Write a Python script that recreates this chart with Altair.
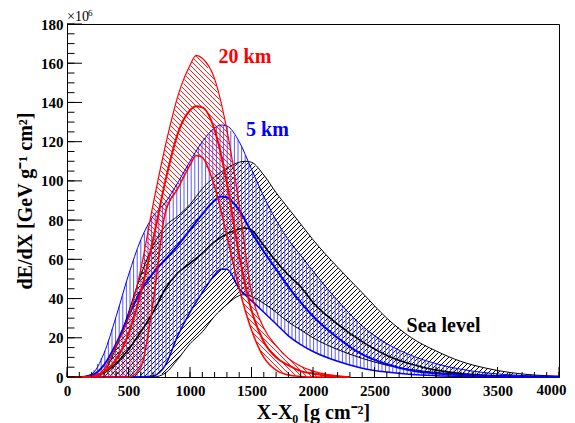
import numpy as np
import pandas as pd
import altair as alt

# ---------------- data ----------------
W, H = 492, 353
XMAX, YMAX = 4000, 180

# 20 km (red)
RED_X = [0, 100, 200, 300, 400, 500, 600, 700, 800, 900, 1000, 1050, 1100, 1200,
         1300, 1400, 1500, 1600, 1700, 1800, 1900, 2000, 2100, 2200, 2300]
RED_UP = [0, 0, 0, 4, 16, 30, 55, 88, 118, 143, 159, 164, 162.5, 152,
          126, 88, 43, 25, 16, 9.5, 5.5, 3, 1.5, 0.6, 0]
RED_MID = [0, 0, 0.3, 2.5, 9, 22, 43, 70, 100, 124, 136, 138, 137.5, 126,
           99, 62, 34, 18, 10, 6, 3, 1.8, 0.8, 0.3, 0]
RED_LOW = [0, 0, 0, 0, 0, 0, 5, 38, 84, 96, 108, 113, 112, 97,
           72, 45, 24, 10, 3.5, 1, 0.3, 0, 0, 0, 0]

# 5 km (blue)
BLUE_X = [0, 100, 200, 300, 400, 500, 600, 700, 800, 900, 1000, 1100, 1200, 1250,
          1300, 1400, 1500, 1600, 1700, 1800, 1900, 2000, 2200, 2400, 2600, 2800,
          3000, 3200, 3400, 3600, 3800, 4000]
BLUE_UP = [0, 0, 1.5, 12, 31, 52, 70, 82, 89, 99, 110, 120, 127, 128.5,
           128, 120, 106, 92, 80, 70, 62, 54, 39, 26, 17, 11,
           6.8, 4, 2.2, 1.1, 0.5, 0.2]
BLUE_MID = [0, 0, 0.8, 6, 17, 31, 44, 53, 60, 67, 75, 83, 90, 92,
            91.5, 85, 74, 64, 55, 46, 38, 31, 20, 11.5, 6.5, 3.3,
            1.8, 1, 0.5, 0.3, 0.15, 0.1]
BLUE_LOW = [0, 0, 0, 0, 0, 0, 0, 0.5, 6, 21, 33, 43, 52, 55,
            55, 45, 39, 33, 27, 21, 16.5, 13, 8, 4.5, 2.5, 1.3,
            0.7, 0.35, 0.15, 0.05, 0, 0]

# Sea level (black)
BLACK_X = [0, 100, 200, 300, 400, 500, 600, 700, 800, 900, 1000, 1100, 1200, 1300,
           1400, 1450, 1500, 1600, 1700, 1800, 1900, 2000, 2200, 2400, 2600, 2800,
           3000, 3200, 3400, 3600, 3800, 4000]
BLACK_UP = [0, 0, 0, 3, 15, 33, 52, 67, 77, 82, 88, 96, 102, 106.5,
            109.5, 110, 109.5, 103, 94, 86, 78, 70, 56, 43, 30, 20,
            13.3, 8, 4.6, 2.3, 1, 0.4]
BLACK_MID = [0, 0, 0.3, 2, 7, 14, 23, 33, 45, 53, 58, 63, 69, 73,
             75.5, 76, 75, 67, 59, 52, 46, 38, 27, 18, 11, 6.5,
             3.5, 1.8, 0.9, 0.4, 0.2, 0.1]
BLACK_LOW = [0, 0, 0, 0, 0, 0, 0, 0, 2, 9, 17, 23, 31, 37,
             41.5, 42, 41, 37.5, 33, 28, 24, 20, 14, 9.5, 6, 3.8,
             2.3, 1.3, 0.7, 0.4, 0.2, 0.1]

X_MAJOR = list(range(0, 4001, 500))
X_MINOR = list(range(0, 4001, 100))
Y_MAJOR = list(range(0, 181, 20))
Y_MINOR = list(range(0, 181, 5))
X_LAST_LABEL = [4000]

LABEL_TEXT = ["20 km", "5 km", "Sea level"]
LABEL_X = [1447, 1630, 3061]
LABEL_Y = [163, 126, 25.8]
LABEL_COLOR = ["#ff0000", "#0000ff", "#000000"]

# ---------------- helpers ----------------
kx = W / XMAX
ky = H / YMAX
FONT = "Liberation Serif"

SX = alt.Scale(domain=[0, XMAX], nice=False, zero=False)
SY = alt.Scale(domain=[0, YMAX], nice=False, zero=False)
AX = alt.Axis(values=X_MAJOR, format="d", tickSize=0, labelPadding=18,
              labelBaseline="alphabetic", grid=False, labelFlush=False,
              labelExpr="datum.value >= 4000 ? '' : datum.label",
              labelOverlap=False, title="X-X\u2080 [g cm\u207b\u00b2]",
              titleY=41, titleBaseline="alphabetic")
AY = alt.Axis(values=Y_MAJOR, format="d", tickSize=0, labelPadding=4,
              grid=False, labelFlush=False, labelOverlap=False,
              title="dE/dX [GeV g\u207b\u00b9 cm\u00b2]", titleAngle=270,
              titleX=-36, titleBaseline="alphabetic")


def X(f="x"):
    return alt.X(f"{f}:Q", scale=SX, axis=AX)


def Y(f="y"):
    return alt.Y(f"{f}:Q", scale=SY, axis=AY)


def diag_hatch(xs, lo, hi, step, direction):
    pxs = np.arange(0, W + 0.01, 0.5)
    xd = pxs / kx
    L = np.interp(xd, xs, lo)
    U = np.interp(xd, xs, hi)
    valid = (xd <= xs[-1]) & (U - L > 0.05)
    segs = []
    cs = np.arange(-W, H, step) if direction == "down" else np.arange(0, W + H, step)
    for c in cs:
        py = pxs + c if direction == "down" else -pxs + c
        yv = (H - py) / ky
        inside = valid & (yv >= L) & (yv <= U)
        idx = np.flatnonzero(inside)
        if idx.size == 0:
            continue
        br = np.flatnonzero(np.diff(idx) > 1)
        starts = np.r_[idx[0], idx[br + 1]]
        ends = np.r_[idx[br], idx[-1]]
        for s, e in zip(starts, ends):
            if e > s:
                segs.append((xd[s], yv[s], xd[e], yv[e]))
    return pd.DataFrame(segs, columns=["x", "y", "x2", "y2"])


def vert_hatch(xs, lo, hi, step_px):
    pxs = np.arange(step_px / 2, W, step_px)
    xd = pxs / kx
    L = np.interp(xd, xs, lo)
    U = np.interp(xd, xs, hi)
    m = (xd <= xs[-1]) & (U - L > 0.3)
    return pd.DataFrame({"x": xd[m], "y": L[m], "y2": U[m]})


def seg_layer(df, color, width):
    return alt.Chart(df).mark_rule(color=color, strokeWidth=width).encode(
        x=X(), y=Y(), x2="x2:Q", y2="y2:Q")


def line_layer(xs, ys, color, width):
    df = pd.DataFrame({"x": xs, "y": ys})
    return alt.Chart(df).mark_line(color=color, strokeWidth=width,
                                   interpolate="monotone").encode(x=X(), y=Y())


layers = []
# hatching
layers.append(seg_layer(diag_hatch(BLACK_X, BLACK_LOW, BLACK_UP, 5.0, "up"), "#000000", 1.0))
vh = vert_hatch(BLUE_X, BLUE_LOW, BLUE_UP, 3.6)
layers.append(alt.Chart(vh).mark_rule(color="#5a5aff", strokeWidth=1).encode(
    x=X(), y=Y(), y2="y2:Q"))
layers.append(seg_layer(diag_hatch(RED_X, RED_LOW, RED_UP, 5.0, "down"), "#ff0000", 0.9))

# curves
layers += [line_layer(BLACK_X, BLACK_UP, "#000000", 1.0),
           line_layer(BLACK_X, BLACK_LOW, "#000000", 1.0),
           line_layer(BLACK_X, BLACK_MID, "#000000", 1.6),
           line_layer(BLUE_X, BLUE_UP, "#0000ff", 1.0),
           line_layer(BLUE_X, BLUE_LOW, "#0000ff", 1.5),
           line_layer(BLUE_X, BLUE_MID, "#0000ff", 2.0),
           line_layer(RED_X, RED_UP, "#ff0000", 1.2),
           line_layer(RED_X, RED_LOW, "#ff0000", 1.5),
           line_layer(RED_X, RED_MID, "#ff0000", 2.0)]

# ticks (ROOT style, inside)
def xticks(vals, length):
    return alt.Chart(pd.DataFrame({"x": vals})).mark_rule(color="black", strokeWidth=1).encode(
        x=X(), y=alt.value(H), y2=alt.value(H - length))


def yticks(vals, length):
    return alt.Chart(pd.DataFrame({"y": vals})).mark_rule(color="black", strokeWidth=1).encode(
        y=Y(), x=alt.value(0), x2=alt.value(length))


layers += [xticks(X_MINOR, 5), xticks(X_MAJOR, 10), yticks(Y_MINOR, 7.5), yticks(Y_MAJOR, 15)]

# last x tick label, kept inside the page
layers.append(alt.Chart(pd.DataFrame({"x": X_LAST_LABEL, "t": [str(v) for v in X_LAST_LABEL]}))
              .mark_text(font=FONT, fontWeight="bold", fontSize=15, align="right",
                         baseline="alphabetic", dx=7.5, color="black")
              .encode(x=X(), y=alt.value(H + 18), text="t:N"))

# labels
lab = pd.DataFrame({"x": LABEL_X, "y": LABEL_Y, "t": LABEL_TEXT, "c": LABEL_COLOR})
layers.append(alt.Chart(lab).mark_text(font=FONT, fontWeight="bold", fontSize=20,
                                       align="center", baseline="middle").encode(
    x=X(), y=Y(), text="t:N", color=alt.Color("c:N", scale=None)))

# x10^6
layers.append(alt.Chart(pd.DataFrame({"t": ["\u00d710"]})).mark_text(
    font=FONT, fontSize=14, align="left", baseline="alphabetic", color="black").encode(
    text="t:N", x=alt.value(0), y=alt.value(-3)))
layers.append(alt.Chart(pd.DataFrame({"t": ["6"]})).mark_text(
    font=FONT, fontSize=9, align="left", baseline="alphabetic", color="black").encode(
    text="t:N", x=alt.value(21), y=alt.value(-8)))

chart = alt.layer(*layers).properties(
    width=W, height=H,
    padding={"left": 59, "top": 16, "right": 8, "bottom": 46},
    autosize=alt.AutoSizeParams(type="none"),
).configure_view(stroke="black", strokeWidth=1).configure_axis(
    labelFont=FONT, labelFontSize=15, labelFontWeight="bold", labelColor="black",
    titleFont=FONT, titleFontSize=20, titleFontWeight="bold", titleColor="black",
    domainColor="black", domainWidth=1,
)

chart.save("out.html", embed_options={"renderer": "svg", "actions": False})
